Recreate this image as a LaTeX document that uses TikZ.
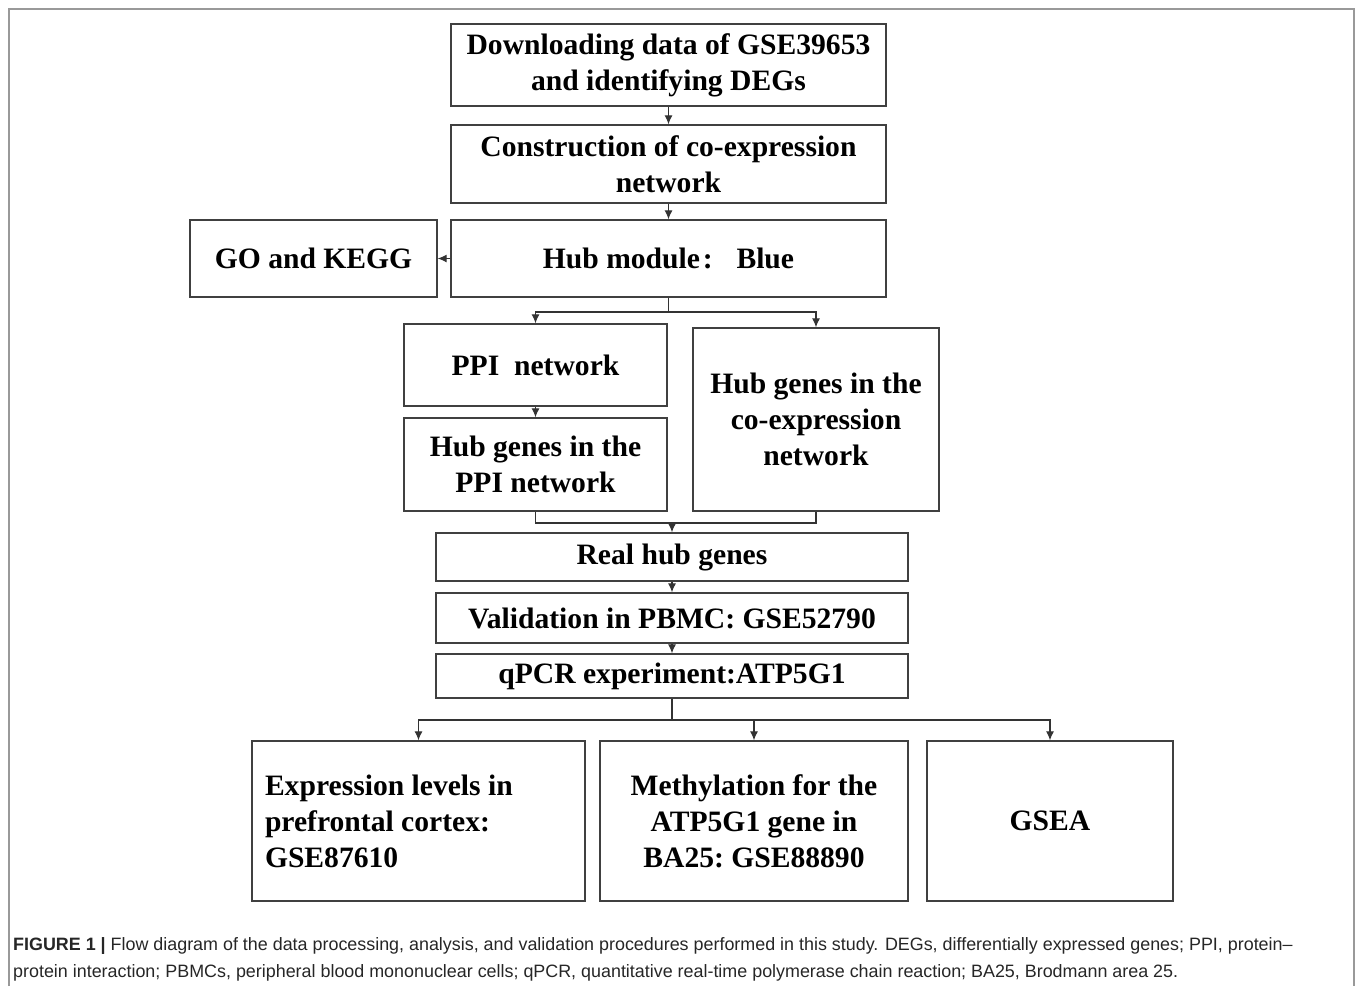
\documentclass[tikz,border=0pt]{standalone}
\usepackage{fontspec}
\setmainfont{Liberation Serif}
\newfontfamily\capfont{Liberation Sans}
\usetikzlibrary{positioning, arrows.meta}

\tikzset{
  stepbox/.style={draw=black!75, line width=1.3pt, rectangle, align=center, inner sep=0pt,
    font=\bfseries\fontsize{29.6}{36}\selectfont\frenchspacing},
  link/.style={draw=black!80, line width=1.2pt},
}

\begin{document}
\begin{tikzpicture}[x=1pt,y=-1pt,>={Latex[length=9pt,width=8pt]}]
\useasboundingbox (0,0) rectangle (1355,986);
\draw[gray!80, line width=1.5pt] (9,986) -- (9,9) -- (1354,9) -- (1354,986);

\node[stepbox, minimum width=435, minimum height=82] (dl) at (668.5,65) {Downloading data of GSE39653\\and identifying DEGs};
\node[stepbox, minimum width=435, minimum height=78] (con) at (668.5,164) {Construction of co-expression\\network};
\node[stepbox, minimum width=435, minimum height=77] (hub) at (668.5,258.5) {Hub module\hspace{0.1em}:\hspace{0.8em}Blue};
\node[stepbox, minimum width=247, minimum height=77] (go) at (313.5,258.5) {GO and KEGG};
\node[stepbox, minimum width=263, minimum height=82] (ppi) at (535.5,365) {PPI\ \ network};
\node[stepbox, minimum width=263, minimum height=93] (hppi) at (535.5,464.5) {Hub genes in the\\PPI network};
\node[stepbox, minimum width=246, minimum height=183] (hco) at (816,419.5) {Hub genes in the\\co-expression\\network};
\node[stepbox, minimum width=472, minimum height=48] (real) at (672,557) {Real hub genes};
\node[stepbox, minimum width=472, minimum height=50] (val) at (672,618) {Validation in PBMC: GSE52790};
\node[stepbox, minimum width=472, minimum height=44] (qpcr) at (672,676) {qPCR experiment:ATP5G1};
\node[stepbox, minimum width=333, minimum height=160, text width=307, align=flush left] (expr) at (418.5,821) {Expression levels in\\prefrontal cortex:\\GSE87610};
\node[stepbox, minimum width=308, minimum height=160] (meth) at (754,821) {Methylation for the\\ATP5G1 gene in\\BA25: GSE88890};
\node[stepbox, minimum width=246, minimum height=160] (gsea) at (1050,821) {GSEA};

\coordinate (split1) at (668.5,312);
\coordinate (join1) at (672,523);
\coordinate (split2) at (672,720);

\draw[link,->] (dl) -- (con);
\draw[link,->] (con) -- (hub);
\draw[link,->] (hub) -- (go);
\draw[link] (hub.south) -- (split1);
\draw[link,->] (split1) -| (ppi.north);
\draw[link,->] (split1) -| (hco.north);
\draw[link,->] (ppi) -- (hppi);
\draw[link] (hppi.south) |- (join1) -| (hco.south);
\draw[link,->] (join1) -- (real);
\draw[link,->] (real) -- (val);
\draw[link,->] (val) -- (qpcr);
\draw[link] (qpcr.south) -- (split2);
\draw[link,->] (split2) -| (expr.north);
\draw[link,->] (split2) -| (meth.north);
\draw[link,->] (split2) -| (gsea.north);

\node[anchor=base west, align=left, inner sep=0pt, text=black!85,
  font=\capfont\fontsize{17.9}{26.5}\selectfont] (cap) at (13,977)
  {\textbf{FIGURE 1 |} Flow diagram of the data processing, analysis, and validation procedures performed in this study. DEGs, differentially expressed genes; PPI, protein\textendash\\protein interaction; PBMCs, peripheral blood mononuclear cells; qPCR, quantitative real-time polymerase chain reaction; BA25, Brodmann area 25.};
\end{tikzpicture}
\end{document}
